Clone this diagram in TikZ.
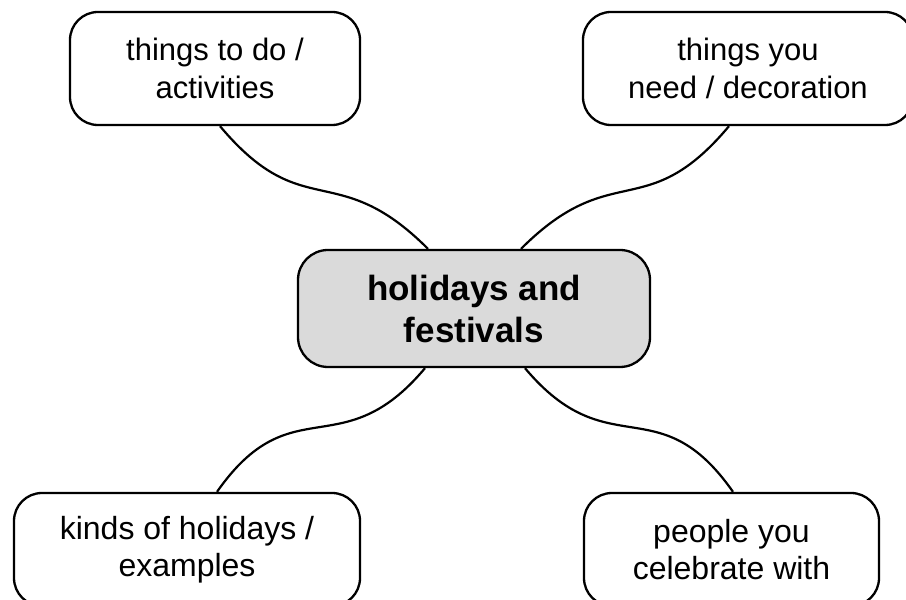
\documentclass[tikz,border=0pt]{standalone}
\usepackage{fontspec}
\setmainfont{Liberation Sans}
\begin{document}
\begin{tikzpicture}[x=1pt,y=1pt,
  topic/.style={draw=black, line width=2.3pt, rounded corners=28pt, fill=white,
    align=center, minimum height=113pt, inner sep=0pt,
    font=\fontsize{31}{38}\selectfont},
  lowtopic/.style={topic, font=\fontsize{32}{37}\selectfont},
  hub/.style={draw=black, line width=2.3pt, rounded corners=30pt, fill=hubgray,
    align=center, minimum width=352pt, minimum height=117pt, inner sep=0pt,
    font=\fontsize{35}{42}\selectfont\bfseries},
  link/.style={line width=2.2pt}]
\definecolor{hubgray}{RGB}{218,218,218}
\useasboundingbox (0,0) rectangle (906,600);
\fill[white] (0,0) rectangle (906,600);

\node[hub] (c) at (474,291.5) {holidays and\\festivals};
\node[topic, minimum width=290pt] (tl) at (215,531.5) {things to do /\\activities};
\node[topic, minimum width=330pt] (tr) at (748,531.5) {things you\\need / decoration};
\node[lowtopic, minimum width=346pt] (bl) at (187,50.5) {kinds of holidays /\\examples};
\node[lowtopic, minimum width=295pt] (br) at (731.5,50.5) {people you\\celebrate with};

\draw[link] ([xshift=5pt]tl.south) .. controls +(-50:130) and +(135:130) .. ([xshift=-46pt]c.north);
\draw[link] ([xshift=-19pt]tr.south) .. controls +(-130:130) and +(45:130) .. ([xshift=47pt]c.north);
\draw[link] ([xshift=-49pt]c.south) .. controls +(-130:130) and +(55:130) .. ([xshift=30pt]bl.north);
\draw[link] ([xshift=51pt]c.south) .. controls +(-50:130) and +(125:130) .. ([xshift=1.5pt]br.north);
\end{tikzpicture}
\end{document}
